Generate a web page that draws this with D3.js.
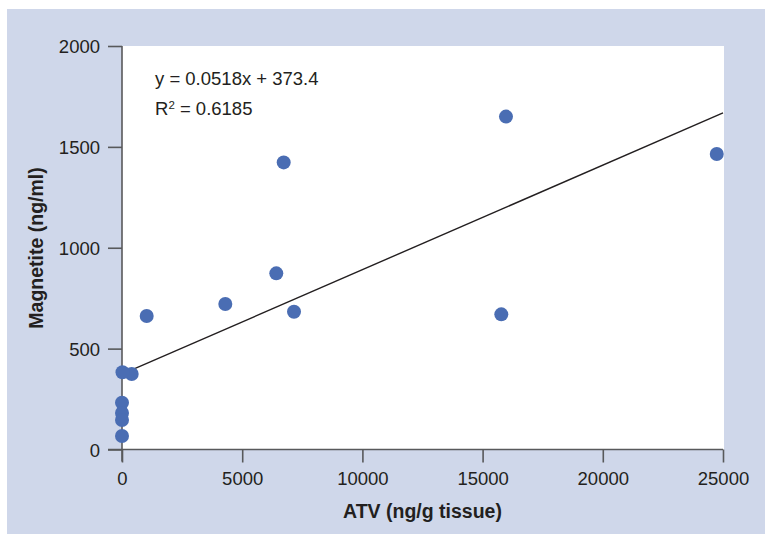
<!DOCTYPE html>
<html>
<head>
<meta charset="utf-8">
<script src="https://cdn.jsdelivr.net/npm/d3@7"></script>
<style>
  html, body { margin: 0; padding: 0; background: #ffffff; }
  svg { display: block; }
  text { font-family: "Liberation Sans", Arial, Helvetica, sans-serif; fill: #231f20; }
</style>
</head>
<body>
<svg id="chart" width="765" height="534"></svg>
<script>
// ---- data ----
const atv = [24740, 15973, 6726, 6418, 4297, 7155, 15778, 1027, 403, 20, 0, 0, 0, 0];
const magnetite = [1465, 1650, 1423, 873, 721, 683, 670, 662, 374, 383, 232, 181, 146, 67];
const xTicks = [0, 5000, 10000, 15000, 20000, 25000];
const yTicks = [0, 500, 1000, 1500, 2000];
const slope = 0.0518;
const intercept = 373.4;
const equationLabel = "y = 0.0518x + 373.4";
const r2Value = "0.6185";
const xTitle = "ATV (ng/g tissue)";
const yTitle = "Magnetite (ng/ml)";

(function () {
const svg = d3.select("#chart");
const W = 765, H = 534;

// background panel
svg.append("rect").attr("x", 7).attr("y", 9).attr("width", W - 7).attr("height", H - 9)
  .attr("fill", "#cfd7ea");

const pL = 122, pR = 723, pT = 46, pB = 449.5;
svg.append("rect").attr("x", pL).attr("y", pT).attr("width", pR - pL + 1).attr("height", pB - pT)
  .attr("fill", "#ffffff");

const x = d3.scaleLinear().domain([0, 25000]).range([pL, pR]);
const y = d3.scaleLinear().domain([0, 2000]).range([pB, pT]);

const axisColor = "#58595b";

const xAxis = svg.append("g").attr("transform", `translate(0,${pB})`)
  .call(d3.axisBottom(x).tickValues(xTicks).tickSize(13).tickPadding(9).tickFormat(d3.format("d")));
xAxis.select(".domain").attr("d", `M${pL - 14},0H${pR}`);
const yAxis = svg.append("g").attr("transform", `translate(${pL},0)`)
  .call(d3.axisLeft(y).tickValues(yTicks).tickSize(14).tickPadding(8).tickFormat(d3.format("d")));
yAxis.select(".domain").attr("d", `M0,${pT}V${pB + 12}`);

[xAxis, yAxis].forEach(g => {
  g.selectAll(".domain").attr("stroke", axisColor).attr("stroke-width", 1.6);
  g.selectAll(".tick line").attr("stroke", axisColor).attr("stroke-width", 1.6);
  g.selectAll(".tick text").style("font-size", "18.5px").style("font-family", "'Liberation Sans', Arial, sans-serif").attr("fill", "#231f20");
});
yAxis.selectAll(".tick text").attr("dy", "0.36em");

// regression line
const xs = [0, 25000];
svg.append("path")
  .datum(xs)
  .attr("d", d3.line().x(d => x(d)).y(d => y(slope * d + intercept)))
  .attr("stroke", "#231f20").attr("stroke-width", 1.4).attr("fill", "none");

// points
const pts = atv.map((v, i) => ({ x: v, y: magnetite[i] }));
svg.append("g").selectAll("circle").data(pts).join("circle")
  .attr("cx", d => x(d.x)).attr("cy", d => y(d.y)).attr("r", 7)
  .attr("fill", "#4a6db3");

// equation
svg.append("text").attr("x", 155).attr("y", 85).style("font-size", "18.5px").text(equationLabel);
const r2 = svg.append("text").attr("x", 155).attr("y", 115).style("font-size", "18.5px");
r2.append("tspan").text("R");
r2.append("tspan").attr("dy", -6).style("font-size", "11.5px").text("2");
r2.append("tspan").attr("dy", 6).text(" = " + r2Value);

// axis titles
svg.append("text").attr("x", (pL + pR) / 2).attr("y", 518).attr("text-anchor", "middle")
  .style("font-size", "19.5px").style("font-weight", "bold").text(xTitle);
svg.append("text").attr("transform", `translate(43,248) rotate(-90)`).attr("text-anchor", "middle")
  .style("font-size", "19.5px").style("font-weight", "bold").text(yTitle);
})();
</script>
</body>
</html>
